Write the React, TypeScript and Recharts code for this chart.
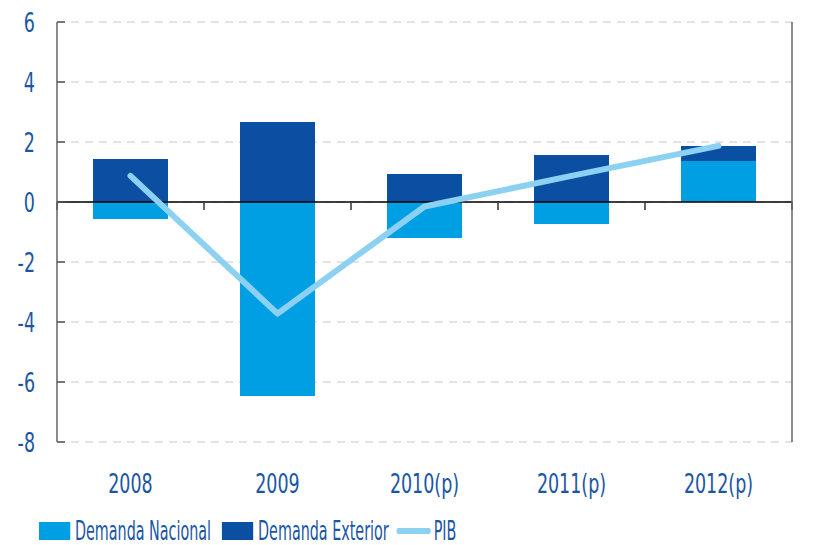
import * as React from "react"
import { Bar, ComposedChart, CartesianGrid, Legend, Line, ReferenceLine, XAxis, YAxis } from "recharts"

const years = ["2008", "2009", "2010(p)", "2011(p)", "2012(p)"]
const demandaNacional = [-0.57, -6.47, -1.2, -0.73, 1.37]
const demandaExterior = [1.43, 2.67, 0.93, 1.57, 0.5]
const pib = [0.87, -3.72, -0.15, 0.87, 1.87]
const yTicks = [6, 4, 2, 0, -2, -4, -6, -8]

const LIGHT = "#009FE3"
const DARK = "#0A4FA1"
const LINE = "#8DD1F2"
const TEXT = "#1A56A3"
const FONT = "'DejaVu Sans Condensed', 'Liberation Sans', sans-serif"
const SQUEEZE = 0.72 // the original font is much narrower than anything installed
const LEGEND_SQUEEZE = 0.59

const data = years.map((year, i) => ({
    year,
    nacional: demandaNacional[i],
    exterior: demandaExterior[i],
    pib: pib[i],
}))

const NarrowTick = ({ x, y, payload, anchor, dy }: any) => (
    <g transform={`translate(${x},${y}) scale(${SQUEEZE},1)`}>
        <text textAnchor={anchor} dy={dy} fill={TEXT} fontSize={27} fontFamily={FONT}>
            {payload.value}
        </text>
    </g>
)

// zero line with the small category separators hanging below it
const ZeroLine = (props: any) => {
    const { x1, x2, y1 } = props
    const step = (x2 - x1) / years.length
    return (
        <g>
            <line x1={x1} x2={x2} y1={y1} y2={y1} stroke="#000" strokeWidth={1.5} />
            {[...years, ""].map((_, i) => (
                <line key={i} x1={x1 + i * step} x2={x1 + i * step} y1={y1} y2={y1 + 8} stroke="#333" strokeWidth={1.5} />
            ))}
        </g>
    )
}

const s = LEGEND_SQUEEZE
const LegendContent = () => (
    <div style={{ paddingTop: 23, paddingLeft: 39 }}>
        <div style={{ display: "flex", alignItems: "center", fontFamily: FONT, fontSize: 27, lineHeight: "26px", height: 26, color: TEXT, transform: `scaleX(${s})`, transformOrigin: "left center", whiteSpace: "nowrap" }}>
            <span style={{ width: 31 / s, height: 18, background: LIGHT, display: "inline-block", marginRight: 5 / s }} />
            <span style={{ marginRight: 11 / s }}>Demanda Nacional</span>
            <span style={{ width: 31 / s, height: 18, background: DARK, display: "inline-block", marginRight: 5 / s }} />
            <span style={{ marginRight: 8 / s }}>Demanda Exterior</span>
            <span style={{ width: 34 / s, height: 6, borderRadius: 3, background: LINE, display: "inline-block", marginRight: 3 / s }} />
            <span>PIB</span>
        </div>
    </div>
)

export default function App() {
    return (
        <div style={{ position: "absolute", left: 0, top: 0, background: "#fff" }}>
            <ComposedChart
                width={836}
                height={545}
                data={data}
                stackOffset="sign"
                margin={{ top: 22, right: 0, left: 0, bottom: 0 }}
            >
                <CartesianGrid vertical={false} stroke="#c8c8c8" strokeDasharray="8 6" yAxisId="left" />
                <XAxis
                    dataKey="year"
                    axisLine={false}
                    tickLine={false}
                    tickSize={0}
                    tickMargin={32}
                    height={53}
                    tick={<NarrowTick anchor="middle" dy="0.71em" />}
                    interval={0}
                />
                <YAxis
                    yAxisId="left"
                    domain={[-8, 6]}
                    ticks={yTicks}
                    interval={0}
                    width={57}
                    axisLine={{ stroke: "#666", strokeWidth: 1.5 }}
                    tickLine={{ stroke: "#555", strokeWidth: 1.5 }}
                    tickSize={-8}
                    tickMargin={30}
                    tick={<NarrowTick anchor="end" dy="0.36em" />}
                />
                <YAxis
                    yAxisId="right"
                    orientation="right"
                    domain={[-8, 6]}
                    ticks={yTicks}
                    interval={0}
                    width={44}
                    axisLine={{ stroke: "#666", strokeWidth: 1.5 }}
                    tickLine={{ stroke: "#555", strokeWidth: 1.5 }}
                    tickSize={-8}
                    tickMargin={28}
                    tick={<NarrowTick anchor="start" dy="0.36em" />}
                />
                <Bar dataKey="nacional" name="Demanda Nacional" stackId="a" yAxisId="left" fill={LIGHT} barSize={75} isAnimationActive={false} />
                <Bar dataKey="exterior" name="Demanda Exterior" stackId="a" yAxisId="left" fill={DARK} barSize={75} isAnimationActive={false} />
                <ReferenceLine y={0} yAxisId="left" shape={<ZeroLine />} />
                <Line
                    type="linear"
                    dataKey="pib"
                    name="PIB"
                    yAxisId="left"
                    stroke={LINE}
                    strokeWidth={6}
                    strokeLinecap="round"
                    strokeLinejoin="round"
                    dot={false}
                    activeDot={false}
                    isAnimationActive={false}
                />
                <Legend verticalAlign="bottom" height={50} content={<LegendContent />} />
            </ComposedChart>
        </div>
    )
}
